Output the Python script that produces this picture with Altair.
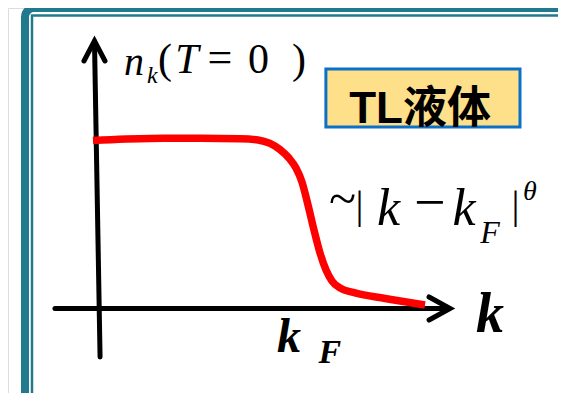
import altair as alt
import pandas as pd

# ---- data (k in units of k_F, n = occupation n_k) ----
curve_k = [-0.004, 0.262, 0.495, 0.681, 0.765, 0.821, 0.867, 0.909, 0.942, 0.970,
           0.998, 1.026, 1.054, 1.082, 1.110, 1.147, 1.217, 1.357, 1.543]
curve_n = [1.008, 1.020, 1.021, 1.018, 1.011, 0.990, 0.954, 0.903, 0.843, 0.759,
           0.622, 0.472, 0.335, 0.233, 0.167, 0.126, 0.096, 0.063, 0.024]

# axis strokes (id, order, k, n)
axis_id = ["y", "y", "ya", "ya", "ya", "x", "x", "xa", "xa", "xa"]
axis_ord = [0, 1, 0, 1, 2, 0, 1, 0, 1, 2]
axis_k = [0.003, 0.029, -0.046, 0.003, 0.052, -0.181, 1.655, 1.562, 1.660, 1.562]
axis_n = [1.600, -0.287, 1.483, 1.603, 1.483, 0.003, 0.003, 0.072, 0.003, -0.066]

# labels
it_text = ["n", "k", "T", "k", "k", "F", "θ"]
it_k = [0.187, 0.273, 0.434, 1.373, 1.725, 1.846, 2.032]
it_n = [1.399, 1.351, 1.411, 0.502, 0.502, 0.395, 0.652]
it_size = [40, 24, 42, 52, 52, 32, 28]

up_text = ["(", "=", "0", ")", "~", "|", "−", "|"]
up_k = [0.332, 0.588, 0.767, 0.956, 1.159, 1.238, 1.566, 1.965]
up_n = [1.411, 1.420, 1.411, 1.411, 0.562, 0.544, 0.526, 0.544]
up_size = [42, 44, 42, 42, 50, 40, 56, 40]

bi_text = ["k", "k", "F"]
bi_k = [1.846, 0.909, 1.100]
bi_n = [-0.138, -0.257, -0.323]
bi_size = [56, 48, 34]

box_label = ["TL液体"]
box_k = [1.520]
box_n = [1.112]

XD = [-0.4, 2.1629]
YD = [-0.5023, 1.8]
TEAL = "#20798C"


def X(f="k"):
    return alt.X(f"{f}:Q", scale=alt.Scale(domain=XD, nice=False, zero=False), axis=None)


def Y(f="n"):
    return alt.Y(f"{f}:Q", scale=alt.Scale(domain=YD, nice=False, zero=False), axis=None)


frame = pd.DataFrame({
    "k": [-0.3208, -0.2882], "n": [1.7999, 1.7551],
    "k2": [2.3587, 2.1816], "n2": [-0.903, -0.5142],
    "w": [8, 2.5], "r": [9, 0],
})
layers = []
for i in range(len(frame)):
    row = frame.iloc[[i]]
    layers.append(
        alt.Chart(row).mark_rect(fill=None, filled=False, stroke=TEAL,
                                 strokeWidth=float(row["w"].iloc[0]),
                                 cornerRadius=float(row["r"].iloc[0]))
        .encode(x=X(), x2="k2:Q", y=Y(), y2="n2:Q")
    )

box = pd.DataFrame({"k": [1.0813], "n": [1.4352], "k2": [1.9858], "n2": [1.0883]})
layers.append(alt.Chart(box).mark_rect(fill="#FFE08A", stroke="#0A70C8", strokeWidth=3)
              .encode(x=X(), x2="k2:Q", y=Y(), y2="n2:Q"))

axes_df = pd.DataFrame({"id": axis_id, "o": axis_ord, "k": axis_k, "n": axis_n})
layers.append(alt.Chart(axes_df).mark_line(color="black", strokeWidth=5, strokeCap="round",
                                           strokeJoin="miter")
              .encode(x=X(), y=Y(), detail="id:N", order="o:Q"))

curve = pd.DataFrame({"k": curve_k, "n": curve_n})
layers.append(alt.Chart(curve).mark_line(color="#FF0000", strokeWidth=7.5, strokeCap="butt",
                                         interpolate="monotone")
              .encode(x=X(), y=Y(), order=alt.Order("k:Q")))

SERIF = "Liberation Serif"
it_df = pd.DataFrame({"t": it_text, "k": it_k, "n": it_n, "s": it_size})
layers.append(alt.Chart(it_df).mark_text(font=SERIF, fontStyle="italic", align="center",
                                         baseline="alphabetic", color="black")
              .encode(x=X(), y=Y(), text="t:N", size=alt.Size("s:Q", scale=None)))
up_df = pd.DataFrame({"t": up_text, "k": up_k, "n": up_n, "s": up_size})
layers.append(alt.Chart(up_df).mark_text(font=SERIF, align="center",
                                         baseline="alphabetic", color="black")
              .encode(x=X(), y=Y(), text="t:N", size=alt.Size("s:Q", scale=None)))
bi_df = pd.DataFrame({"t": bi_text, "k": bi_k, "n": bi_n, "s": bi_size})
layers.append(alt.Chart(bi_df).mark_text(font=SERIF, fontStyle="italic", fontWeight="bold",
                                         align="center", baseline="alphabetic", color="black")
              .encode(x=X(), y=Y(), text="t:N", size=alt.Size("s:Q", scale=None)))
lab_df = pd.DataFrame({"t": box_label, "k": box_k, "n": box_n})
layers.append(alt.Chart(lab_df).mark_text(font="Liberation Sans, Noto Sans CJK SC", fontWeight="bold",
                                          fontSize=44, align="center", baseline="alphabetic",
                                          color="black")
              .encode(x=X(), y=Y(), text="t:N"))

chart = alt.layer(*layers).properties(
    width=550, height=385,
    autosize=alt.AutoSizeParams(type="none"), padding=0,
).configure_view(stroke=None).configure(background="white")

chart.save("out.html", embed_options={"renderer": "svg", "actions": False})
